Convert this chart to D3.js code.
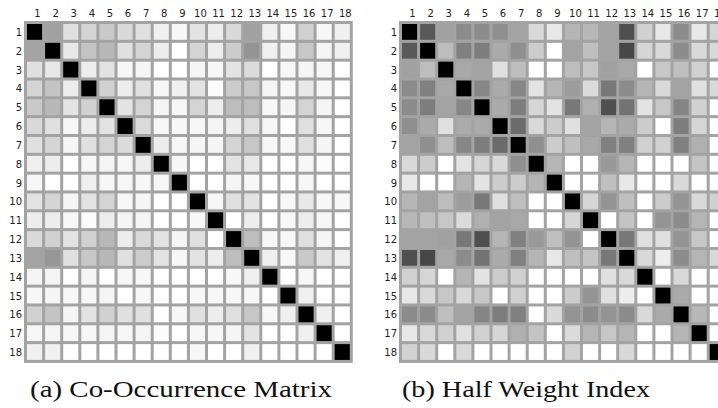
<!DOCTYPE html>
<html>
<head>
<meta charset="utf-8">
<script src="https://cdn.jsdelivr.net/npm/d3@7"></script>
<style>
  body { margin: 0; background: #fff; }
  svg { display: block; }
</style>
</head>
<body>
<svg id="chart"></svg>
<script>
// topic ids 1..18
var topics = d3.range(1, 19);

// (a) co-occurrence, darkness in percent (100 = diagonal)
var coOccurrence = [
    [100,37,12,17,21,15,12,6,3,11,7,15,37,6,3,18,3,6],
    [36,100,9,23,28,12,17,7,0,17,7,20,42,6,4,22,4,6],
    [12,9,100,7,11,3,4,0,0,4,3,11,14,0,3,4,3,0],
    [17,23,7,100,18,7,12,3,6,11,1,20,22,4,3,9,3,0],
    [21,28,11,18,100,11,17,4,3,17,7,26,26,3,4,17,4,0],
    [15,12,3,7,11,100,14,3,3,3,4,7,12,3,0,12,3,0],
    [12,17,4,12,17,14,100,7,3,4,4,17,22,3,3,12,4,0],
    [6,7,0,3,4,3,7,100,3,0,0,11,9,0,0,3,1,0],
    [3,0,0,6,3,3,3,3,100,0,0,4,3,0,0,3,0,0],
    [11,17,4,11,17,3,4,0,0,100,3,12,11,0,3,9,3,3],
    [7,7,3,1,7,4,4,0,0,3,100,0,7,0,3,7,3,0],
    [15,18,11,18,28,7,15,11,4,12,0,100,26,3,3,12,4,0],
    [36,41,12,22,28,12,20,11,3,11,7,26,100,6,3,21,11,6],
    [4,4,0,4,0,3,3,0,0,0,0,3,6,100,0,3,0,0],
    [3,4,3,3,4,0,3,0,0,3,3,3,3,0,100,6,0,0],
    [18,23,4,11,18,12,12,0,3,12,7,12,22,3,6,100,6,0],
    [3,4,3,3,4,3,4,1,0,3,3,4,11,0,0,6,100,0],
    [6,6,0,0,0,0,0,0,0,3,0,0,6,0,0,0,0,100]
];

// (b) half weight index, same scale
var halfWeight = [
    [100,65,37,45,45,44,36,15,9,29,28,36,69,18,9,45,9,16],
    [65,100,26,50,51,33,44,20,0,36,25,36,72,16,15,45,15,15],
    [37,26,100,34,36,12,26,0,0,26,22,37,34,0,22,25,18,0],
    [45,50,34,100,47,33,47,11,29,39,14,53,45,29,15,36,12,15],
    [45,51,36,47,100,33,51,16,11,53,31,69,55,11,22,48,18,0],
    [44,33,12,33,33,100,58,15,20,12,36,29,33,20,0,51,16,0],
    [36,44,26,47,51,58,100,44,20,25,34,50,50,18,18,50,31,0],
    [15,20,0,11,16,15,44,100,29,0,0,40,29,0,0,0,23,0],
    [9,0,0,29,11,20,20,29,100,0,0,25,9,0,0,15,0,0],
    [29,36,26,39,53,12,25,0,0,100,16,42,25,0,20,42,15,18],
    [28,25,22,14,31,36,34,0,0,16,100,0,23,0,42,45,29,0],
    [36,36,37,53,69,29,50,40,25,42,0,100,53,12,12,42,22,0],
    [69,72,34,45,55,33,50,29,9,25,23,53,100,15,7,45,29,15],
    [18,16,0,29,11,20,18,0,0,0,0,12,15,100,0,15,0,0],
    [9,15,22,15,22,0,18,0,0,20,42,12,7,0,100,33,0,0],
    [45,45,25,36,48,51,50,0,15,42,45,42,45,15,33,100,28,0],
    [9,15,18,12,18,16,31,23,0,14,29,22,29,0,0,29,100,0],
    [18,15,0,15,0,0,0,0,0,18,0,0,15,0,0,0,0,100]
];

var captions = ["(a) Co-Occurrence Matrix", "(b) Half Weight Index"];

var W = 718, H = 408;
var pw = 18.1, ph = 18.83, gap = 3;

var svg = d3.select("#chart").attr("width", W).attr("height", H);

var color = d3.scaleLinear().domain([0, 100]).range(["#ffffff", "#000000"]);

var x = d3.scaleBand().domain(topics).range([0, 18 * pw]);
var y = d3.scaleBand().domain(topics).range([0, 18 * ph]);

function drawMatrix(data, left, top, caption, capX, capLen) {
    let g = svg.append("g").attr("transform", "translate(" + left + "," + top + ")");

    // gray grid background
    g.append("rect")
        .attr("x", 0).attr("y", 0)
        .attr("width", 18 * pw + gap)
        .attr("height", 18 * ph + gap)
        .attr("fill", "#a3a3a3");

    let cells = [];
    data.forEach((row, i) => {
        row.forEach((v, j) => {
            cells.push({r: topics[i], c: topics[j], v: v});
        });
    });

    g.selectAll(".cell")
        .data(cells)
        .enter().append("rect")
        .attr("class", "cell")
        .attr("x", d => gap + x(d.c))
        .attr("y", d => gap + y(d.r))
        .attr("width", x.bandwidth() - gap)
        .attr("height", y.bandwidth() - gap)
        .attr("fill", d => color(d.v));

    // column numbers
    g.selectAll(".colLab")
        .data(topics)
        .enter().append("text")
        .attr("class", "colLab")
        .attr("x", d => gap + x(d) + x.bandwidth() / 2 + 1.5)
        .attr("y", -4)
        .attr("text-anchor", "middle")
        .style("font-family", "DejaVu Sans")
        .style("font-size", "10px")
        .attr("fill", "#222")
        .text(d => d);

    // row numbers
    g.selectAll(".rowLab")
        .data(topics)
        .enter().append("text")
        .attr("class", "rowLab")
        .attr("x", -2)
        .attr("y", d => gap + y(d) + y.bandwidth() / 2 + 2.5)
        .attr("text-anchor", "end")
        .style("font-family", "DejaVu Sans")
        .style("font-size", "10px")
        .attr("fill", "#222")
        .text(d => d);

    svg.append("text")
        .attr("x", capX)
        .attr("y", 397)
        .attr("textLength", capLen)
        .attr("lengthAdjust", "spacingAndGlyphs")
        .style("font-family", "Liberation Serif")
        .style("font-size", "24px")
        .attr("fill", "#111")
        .text(caption);
}

drawMatrix(coOccurrence, 24, 21, captions[0], 30, 302);
drawMatrix(halfWeight, 399, 21, captions[1], 402, 248);
</script>
</body>
</html>
